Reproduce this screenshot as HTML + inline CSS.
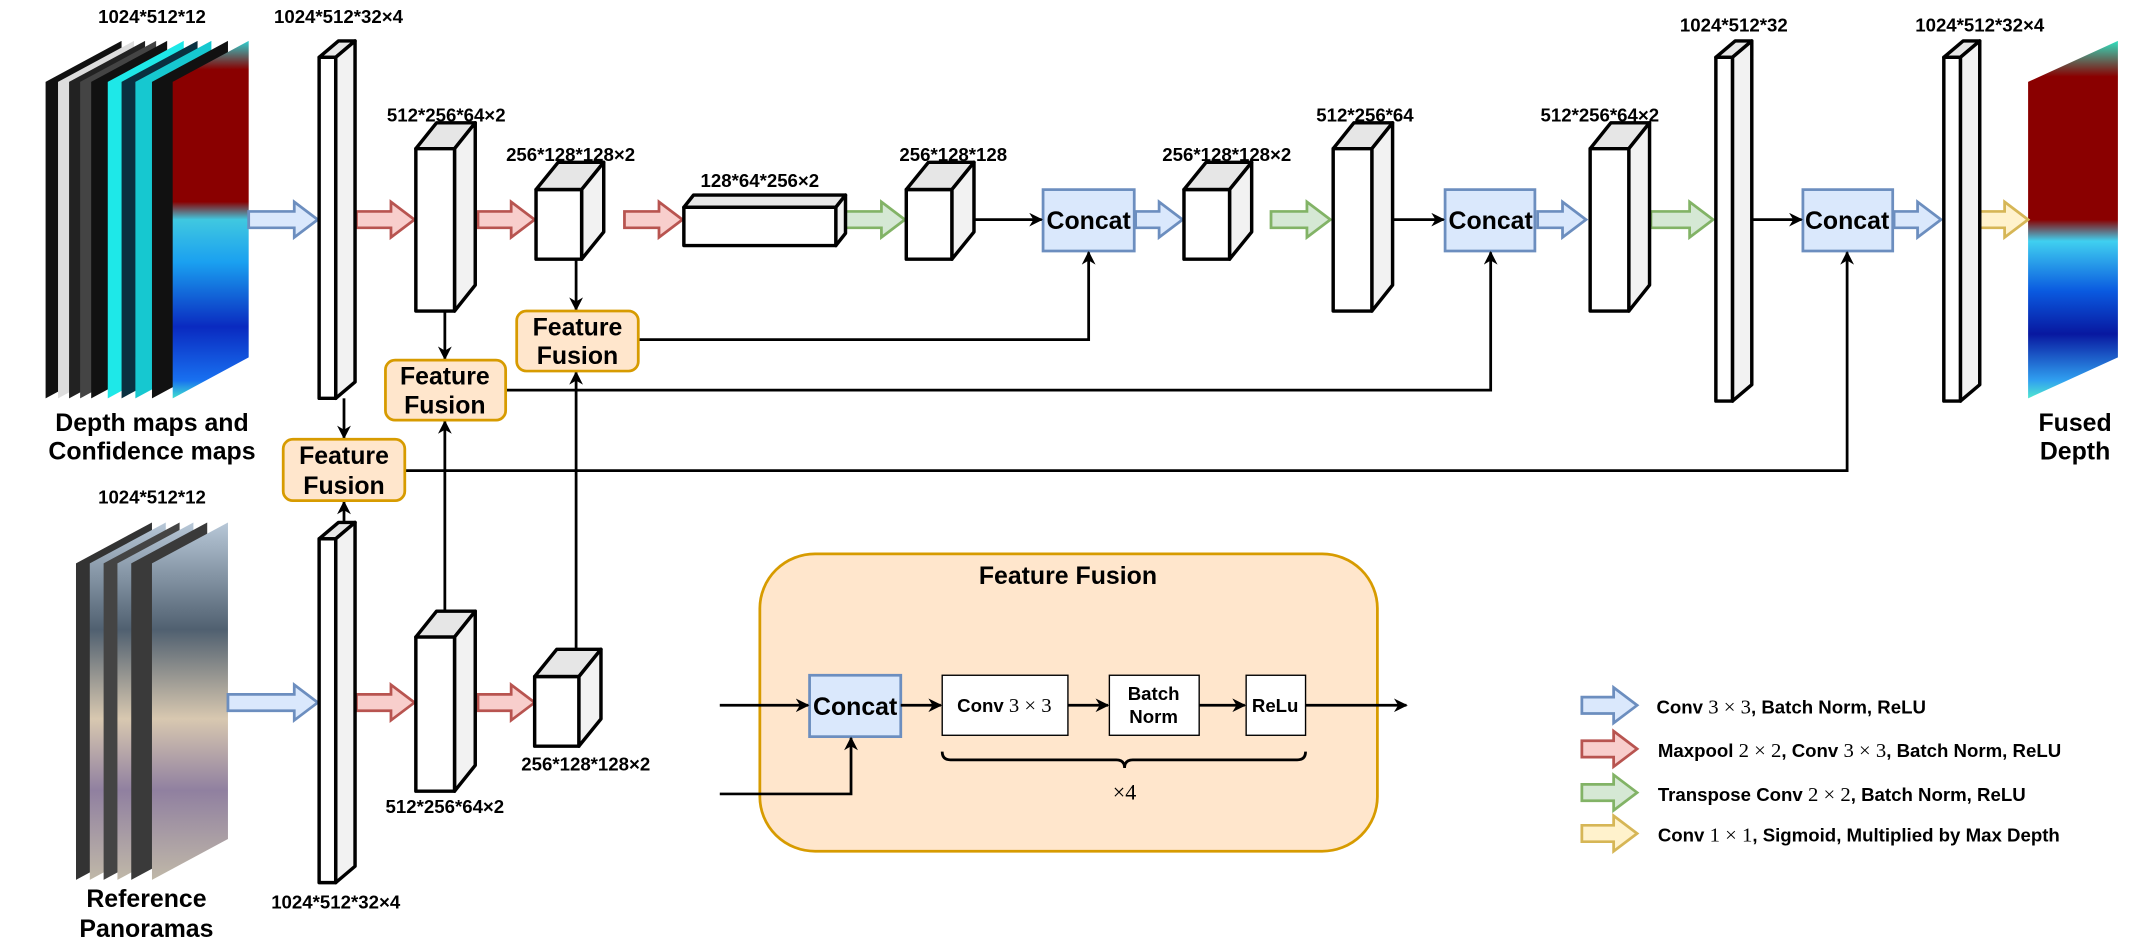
<!DOCTYPE html>
<html><head><meta charset="utf-8"><style>
html,body{margin:0;padding:0;background:#fff;}
svg{display:block;}
text{font-family:"Liberation Sans",Arial,sans-serif;font-weight:bold;fill:#000;}
.c{stroke:#000;stroke-width:2.5;stroke-linejoin:round}
.ln{stroke:#000;stroke-width:2;fill:none}
.m{font-family:"Liberation Serif",serif;font-weight:normal}
</style></head><body>
<svg width="2140" height="944" viewBox="0 0 1549 692" preserveAspectRatio="none" xmlns="http://www.w3.org/2000/svg">
<defs>
<marker id="ah" viewBox="0 0 10 10" refX="9" refY="5" markerWidth="5" markerHeight="5" orient="auto"><path d="M0,0 L10,5 L0,10 L3,5 z" fill="#000"/></marker>
<linearGradient id="jet" x1="0" y1="0" x2="0" y2="1">
<stop offset="0" stop-color="#2fd0d0"/><stop offset="0.08" stop-color="#8a0000"/><stop offset="0.45" stop-color="#8a0000"/><stop offset="0.5" stop-color="#40c8e0"/><stop offset="0.62" stop-color="#1aa0f0"/><stop offset="0.8" stop-color="#0a2ac0"/><stop offset="0.95" stop-color="#1870f0"/><stop offset="1" stop-color="#40e0d0"/>
</linearGradient>
<linearGradient id="fus" x1="0" y1="0" x2="0" y2="1">
<stop offset="0" stop-color="#30e0c0"/><stop offset="0.1" stop-color="#8a0000"/><stop offset="0.5" stop-color="#8a0000"/><stop offset="0.56" stop-color="#40d0f0"/><stop offset="0.7" stop-color="#0a5ae0"/><stop offset="0.82" stop-color="#0818a0"/><stop offset="0.95" stop-color="#30a0f0"/><stop offset="1" stop-color="#50e8d0"/>
</linearGradient>
<linearGradient id="pano" x1="0" y1="0" x2="0" y2="1">
<stop offset="0" stop-color="#b8c8d8"/><stop offset="0.3" stop-color="#506070"/><stop offset="0.55" stop-color="#d8c8b0"/><stop offset="0.75" stop-color="#9080a0"/><stop offset="1" stop-color="#c0b8a8"/>
</linearGradient>
</defs>

<polygon points="33,60 88,30 88,262 33,292" fill="#111"/>
<polygon points="42,60 97,30 97,262 42,292" fill="#ddd"/>
<polygon points="50,60 105,30 105,262 50,292" fill="#222"/>
<polygon points="58,60 113,30 113,262 58,292" fill="#444"/>
<polygon points="66,60 121,30 121,262 66,292" fill="#111"/>
<polygon points="78,60 133,30 133,262 78,292" fill="#1ee8e8"/>
<polygon points="88,60 143,30 143,262 88,292" fill="#0a3040"/>
<polygon points="98,60 153,30 153,262 98,292" fill="#16c8d0"/>
<polygon points="110,60 165,30 165,262 110,292" fill="#111"/>
<polygon points="125,60 180,30 180,262 125,292" fill="url(#jet)"/>
<text x="110" y="17" font-size="13.5" text-anchor="middle">1024*512*12</text>
<text x="245" y="17" font-size="13.5" text-anchor="middle">1024*512*32×4</text>
<text x="110" y="316" font-size="18" text-anchor="middle">Depth maps and</text>
<text x="110" y="337" font-size="18" text-anchor="middle">Confidence maps</text>

<polygon points="55,413 110,383 110,615 55,645" fill="#333"/>
<polygon points="65,413 120,383 120,615 65,645" fill="url(#pano)"/>
<polygon points="75,413 130,383 130,615 75,645" fill="#444"/>
<polygon points="85,413 140,383 140,615 85,645" fill="url(#pano)"/>
<polygon points="95,413 150,383 150,615 95,645" fill="#3a3a3a"/>
<polygon points="110,413 165,383 165,615 110,645" fill="url(#pano)"/>
<text x="110" y="369" font-size="13.5" text-anchor="middle">1024*512*12</text>
<text x="106" y="665" font-size="18" text-anchor="middle">Reference</text>
<text x="106" y="687" font-size="18" text-anchor="middle">Panoramas</text>

<polygon points="1468,60 1533,30 1533,262 1468,292" fill="url(#fus)"/>
<text x="1502" y="316" font-size="18" text-anchor="middle">Fused</text>
<text x="1502" y="337" font-size="18" text-anchor="middle">Depth</text>

<g fill="#dae8fc" stroke="#6c8ebf" stroke-width="2">
<polygon points="180,155 213,155 213,148 230,161 213,174 213,167 180,167"/>
<polygon points="822,155 839,155 839,148 856,161 839,174 839,167 822,167"/>
<polygon points="1113,155 1131,155 1131,148 1148,161 1131,174 1131,167 1113,167"/>
<polygon points="1371,155 1388,155 1388,148 1405,161 1388,174 1388,167 1371,167"/>
<polygon points="165,509 213,509 213,502 230,515 213,528 213,521 165,521"/>
<polygon points="1145,511 1168,511 1168,504 1185,517 1168,530 1168,523 1145,523"/>
</g>
<g fill="#f8cecc" stroke="#b85450" stroke-width="2">
<polygon points="258,155 283,155 283,148 300,161 283,174 283,167 258,167"/>
<polygon points="346,155 370,155 370,148 387,161 370,174 370,167 346,167"/>
<polygon points="452,155 477,155 477,148 494,161 477,174 477,167 452,167"/>
<polygon points="258,509 283,509 283,502 300,515 283,528 283,521 258,521"/>
<polygon points="346,509 370,509 370,502 387,515 370,528 370,521 346,521"/>
<polygon points="1145,543 1168,543 1168,536 1185,549 1168,562 1168,555 1145,555"/>
</g>
<g fill="#d5e8d4" stroke="#82b366" stroke-width="2">
<polygon points="612,155 638,155 638,148 655,161 638,174 638,167 612,167"/>
<polygon points="920,155 946,155 946,148 963,161 946,174 946,167 920,167"/>
<polygon points="1195,155 1223,155 1223,148 1240,161 1223,174 1223,167 1195,167"/>
<polygon points="1145,575 1168,575 1168,568 1185,581 1168,594 1168,587 1145,587"/>
</g>
<g fill="#fff2cc" stroke="#d6b656" stroke-width="2">
<polygon points="1433,155 1451,155 1451,148 1468,161 1451,174 1451,167 1433,167"/>
<polygon points="1145,605 1168,605 1168,598 1185,611 1168,624 1168,617 1145,617"/>
</g>

<g class="c">
<polygon points="231,42 245,30 257,30 243,42" fill="#e6e6e6"/><polygon points="243,42 257,30 257,280 243,292" fill="#f2f2f2"/><rect x="231" y="42" width="12" height="250" fill="#fff"/>
<polygon points="301,109 316,90 344,90 329,109" fill="#e6e6e6"/><polygon points="329,109 344,90 344,209 329,228" fill="#f2f2f2"/><rect x="301" y="109" width="28" height="119" fill="#fff"/>
<polygon points="388,139 404,119 437,119 421,139" fill="#e6e6e6"/><polygon points="421,139 437,119 437,170 421,190" fill="#f2f2f2"/><rect x="388" y="139" width="33" height="51" fill="#fff"/>
<polygon points="495,152 502,143 612,143 605,152" fill="#e6e6e6"/><polygon points="605,152 612,143 612,171 605,180" fill="#f2f2f2"/><rect x="495" y="152" width="110" height="28" fill="#fff"/>
<polygon points="656,139 672,119 705,119 689,139" fill="#e6e6e6"/><polygon points="689,139 705,119 705,170 689,190" fill="#f2f2f2"/><rect x="656" y="139" width="33" height="51" fill="#fff"/>
<polygon points="857,139 873,119 906,119 890,139" fill="#e6e6e6"/><polygon points="890,139 906,119 906,170 890,190" fill="#f2f2f2"/><rect x="857" y="139" width="33" height="51" fill="#fff"/>
<polygon points="965,109 980,90 1008,90 993,109" fill="#e6e6e6"/><polygon points="993,109 1008,90 1008,209 993,228" fill="#f2f2f2"/><rect x="965" y="109" width="28" height="119" fill="#fff"/>
<polygon points="1151,109 1166,90 1194,90 1179,109" fill="#e6e6e6"/><polygon points="1179,109 1194,90 1194,209 1179,228" fill="#f2f2f2"/><rect x="1151" y="109" width="28" height="119" fill="#fff"/>
<polygon points="1242,42 1256,30 1268,30 1254,42" fill="#e6e6e6"/><polygon points="1254,42 1268,30 1268,282 1254,294" fill="#f2f2f2"/><rect x="1242" y="42" width="12" height="252" fill="#fff"/>
<polygon points="1407,42 1421,30 1433,30 1419,42" fill="#e6e6e6"/><polygon points="1419,42 1433,30 1433,282 1419,294" fill="#f2f2f2"/><rect x="1407" y="42" width="12" height="252" fill="#fff"/>
<polygon points="231,395 245,383 257,383 243,395" fill="#e6e6e6"/><polygon points="243,395 257,383 257,635 243,647" fill="#f2f2f2"/><rect x="231" y="395" width="12" height="252" fill="#fff"/>
<polygon points="301,467 316,448 344,448 329,467" fill="#e6e6e6"/><polygon points="329,467 344,448 344,561 329,580" fill="#f2f2f2"/><rect x="301" y="467" width="28" height="113" fill="#fff"/>
<polygon points="387,496 403,476 435,476 419,496" fill="#e6e6e6"/><polygon points="419,496 435,476 435,527 419,547" fill="#f2f2f2"/><rect x="387" y="496" width="32" height="51" fill="#fff"/>
</g>

<g font-size="13.5" text-anchor="middle">
<text x="323" y="89">512*256*64×2</text>
<text x="413" y="118">256*128*128×2</text>
<text x="550" y="137">128*64*256×2</text>
<text x="690" y="118">256*128*128</text>
<text x="888" y="118">256*128*128×2</text>
<text x="988" y="89">512*256*64</text>
<text x="1158" y="89">512*256*64×2</text>
<text x="1255" y="23">1024*512*32</text>
<text x="1433" y="23">1024*512*32×4</text>
<text x="243" y="666">1024*512*32×4</text>
<text x="322" y="596">512*256*64×2</text>
<text x="424" y="565">256*128*128×2</text>
</g>

<g fill="#dae8fc" stroke="#6c8ebf" stroke-width="2">
<rect x="755" y="139" width="66" height="45"/>
<rect x="1046" y="139" width="65" height="45"/>
<rect x="1305" y="139" width="65" height="45"/>
</g>
<g font-size="18" text-anchor="middle">
<text x="788" y="168">Concat</text>
<text x="1079" y="168">Concat</text>
<text x="1337" y="168">Concat</text>
</g>

<g class="ln">
<line x1="705" y1="161" x2="754" y2="161" marker-end="url(#ah)"/>
<line x1="1008" y1="161" x2="1045" y2="161" marker-end="url(#ah)"/>
<line x1="1268" y1="161" x2="1304" y2="161" marker-end="url(#ah)"/>
<line x1="417" y1="190" x2="417" y2="227" marker-end="url(#ah)"/>
<line x1="322" y1="228" x2="322" y2="263" marker-end="url(#ah)"/>
<line x1="249" y1="292" x2="249" y2="321" marker-end="url(#ah)"/>
<polyline points="462,249 788,249 788,185" marker-end="url(#ah)"/>
<polyline points="366,286 1079,286 1079,185" marker-end="url(#ah)"/>
<polyline points="293,345 1337,345 1337,185" marker-end="url(#ah)"/>
<line x1="249" y1="383" x2="249" y2="368" marker-end="url(#ah)"/>
<line x1="322" y1="448" x2="322" y2="309" marker-end="url(#ah)"/>
<line x1="417" y1="476" x2="417" y2="273" marker-end="url(#ah)"/>
</g>

<g fill="#ffe6cc" stroke="#d79b00" stroke-width="2">
<rect x="374" y="228" width="88" height="44" rx="7"/>
<rect x="279" y="264" width="87" height="44" rx="7"/>
<rect x="205" y="322" width="88" height="45" rx="7"/>
</g>
<g font-size="18" text-anchor="middle">
<text x="418" y="246">Feature</text><text x="418" y="267">Fusion</text>
<text x="322" y="282">Feature</text><text x="322" y="303">Fusion</text>
<text x="249" y="340">Feature</text><text x="249" y="362">Fusion</text>
</g>

<rect x="550" y="406" width="447" height="218" rx="40" fill="#ffe6cc" stroke="#d79b00" stroke-width="2"/>
<text x="773" y="428" font-size="18" text-anchor="middle">Feature Fusion</text>
<rect x="586" y="495" width="66" height="45" fill="#dae8fc" stroke="#6c8ebf" stroke-width="2"/>
<text x="619" y="524" font-size="18" text-anchor="middle">Concat</text>
<g fill="#fff" stroke="#000" stroke-width="1">
<rect x="682" y="495" width="91" height="44"/>
<rect x="803" y="495" width="65" height="44"/>
<rect x="902" y="495" width="43" height="44"/>
</g>
<text x="727" y="522" font-size="13.5" text-anchor="middle">Conv <tspan class="m" font-size="15">3 × 3</tspan></text>
<text x="835" y="513" font-size="13.5" text-anchor="middle">Batch</text>
<text x="835" y="530" font-size="13.5" text-anchor="middle">Norm</text>
<text x="923" y="522" font-size="13.5" text-anchor="middle">ReLu</text>
<g class="ln">
<line x1="521" y1="517" x2="585" y2="517" marker-end="url(#ah)"/>
<polyline points="521,582 616,582 616,541" marker-end="url(#ah)"/>
<line x1="652" y1="517" x2="681" y2="517" marker-end="url(#ah)"/>
<line x1="773" y1="517" x2="802" y2="517" marker-end="url(#ah)"/>
<line x1="868" y1="517" x2="901" y2="517" marker-end="url(#ah)"/>
<line x1="945" y1="517" x2="1018" y2="517" marker-end="url(#ah)"/>
<path d="M682,551 Q682,557 688,557 L808,557 Q814,557 814,563 Q814,557 820,557 L939,557 Q945,557 945,551"/>
</g>
<text x="814" y="586" font-size="16" class="m" text-anchor="middle">×4</text>

<g font-size="13.5">
<text x="1199" y="523">Conv <tspan class="m" font-size="15">3 × 3</tspan>, Batch Norm, ReLU</text>
<text x="1200" y="555">Maxpool <tspan class="m" font-size="15">2 × 2</tspan>, Conv <tspan class="m" font-size="15">3 × 3</tspan>, Batch Norm, ReLU</text>
<text x="1200" y="587">Transpose Conv <tspan class="m" font-size="15">2 × 2</tspan>, Batch Norm, ReLU</text>
<text x="1200" y="617">Conv <tspan class="m" font-size="15">1 × 1</tspan>, Sigmoid, Multiplied by Max Depth</text>
</g>
</svg>
</body></html>
